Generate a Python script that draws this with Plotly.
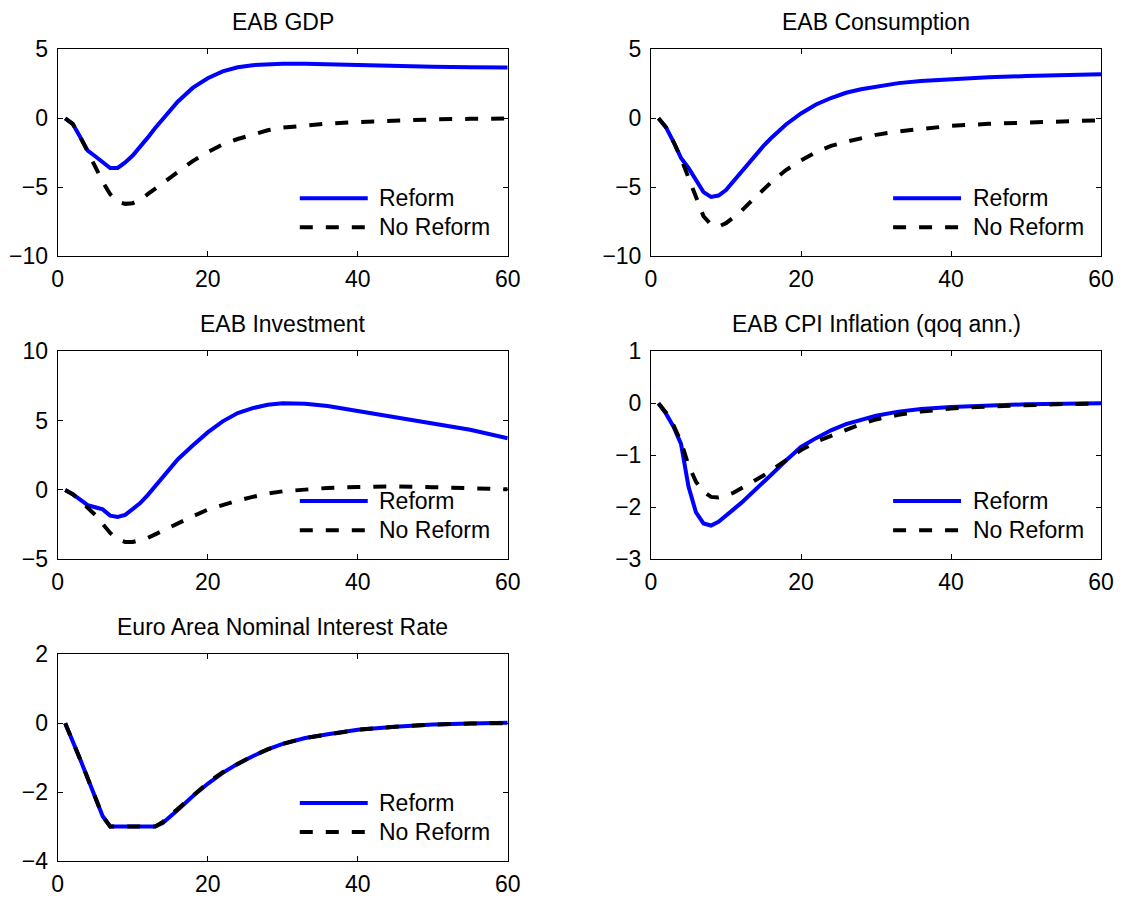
import plotly.graph_objects as go

# ---------------- data ----------------
quarters = [1, 2, 3, 4, 5, 6, 7, 8, 9, 10, 11, 12, 13, 14, 15, 16,
            18, 20, 22, 24, 26, 28, 30, 33, 36, 40, 45, 50, 55, 60]

titles = ["EAB GDP", "EAB Consumption", "EAB Investment",
          "EAB CPI Inflation (qoq ann.)", "Euro Area Nominal Interest Rate"]
series_names = ["Reform", "No Reform"]

gdp_reform = [0, -0.4, -1.35, -2.35, -2.75, -3.2, -3.6, -3.6, -3.2, -2.7, -2.1, -1.4, -0.7, -0.05, 0.6, 1.2,
              2.2, 2.9, 3.4, 3.7, 3.85, 3.92, 3.96, 3.95, 3.9, 3.83, 3.77, 3.73, 3.7, 3.68]
gdp_noreform = [0, -0.4, -1.35, -2.35, -3.5, -4.6, -5.5, -6.05, -6.2, -6.15, -5.9, -5.5, -5.1, -4.75, -4.3, -3.9,
                -3.1, -2.45, -1.9, -1.5, -1.15, -0.87, -0.68, -0.5, -0.38, -0.27, -0.15, -0.08, -0.04, -0.02]

cons_reform = [0, -0.65, -1.7, -2.87, -3.6, -4.45, -5.35, -5.7, -5.6, -5.2, -4.55, -3.95, -3.3, -2.65, -2.0, -1.45,
               -0.45, 0.35, 1.0, 1.47, 1.85, 2.1, 2.3, 2.55, 2.7, 2.85, 2.97, 3.06, 3.13, 3.2]
cons_noreform = [0, -0.65, -1.7, -2.9, -4.3, -5.8, -7.1, -7.7, -7.85, -7.6, -7.2, -6.75, -6.2, -5.65, -5.15, -4.65,
                 -3.75, -3.05, -2.45, -2.0, -1.7, -1.43, -1.2, -0.95, -0.75, -0.55, -0.4, -0.29, -0.2, -0.14]

inv_reform = [0, -0.3, -0.7, -1.1, -1.25, -1.4, -1.85, -1.95, -1.8, -1.4, -0.95, -0.37, 0.3, 0.95, 1.6, 2.2,
              3.2, 4.15, 4.95, 5.55, 5.9, 6.15, 6.25, 6.22, 6.05, 5.7, 5.25, 4.77, 4.34, 3.73]
inv_noreform = [0, -0.3, -0.77, -1.3, -1.8, -2.45, -3.1, -3.58, -3.75, -3.75, -3.63, -3.46, -3.2, -2.93, -2.65, -2.38,
                -1.9, -1.42, -1.06, -0.77, -0.5, -0.26, -0.1, 0.05, 0.15, 0.22, 0.25, 0.2, 0.12, 0.05]

cpi_reform = [0, -0.2, -0.45, -0.78, -1.6, -2.1, -2.31, -2.35, -2.28, -2.17, -2.04, -1.92, -1.79, -1.66, -1.52, -1.38,
              -1.1, -0.84, -0.67, -0.52, -0.4, -0.31, -0.24, -0.16, -0.11, -0.07, -0.04, -0.02, -0.01, 0.0]
cpi_noreform = [0, -0.18, -0.42, -0.74, -1.19, -1.51, -1.7, -1.8, -1.81, -1.78, -1.72, -1.64, -1.56, -1.48, -1.39, -1.29,
                -1.1, -0.9, -0.74, -0.62, -0.5, -0.4, -0.31, -0.22, -0.16, -0.1, -0.06, -0.03, -0.015, -0.005]

rate_reform = [0, -0.5, -1.05, -1.6, -2.15, -2.7, -3.0, -3.0, -3.0, -3.0, -3.0, -3.0, -3.0, -2.9, -2.72, -2.52,
               -2.12, -1.76, -1.44, -1.18, -0.96, -0.76, -0.6, -0.43, -0.32, -0.19, -0.1, -0.04, -0.01, 0.01]
rate_noreform = [0, -0.5, -1.05, -1.6, -2.15, -2.7, -3.0, -3.0, -3.0, -3.0, -3.0, -3.0, -3.0, -2.87, -2.68, -2.48,
                 -2.09, -1.73, -1.42, -1.17, -0.95, -0.76, -0.6, -0.43, -0.32, -0.19, -0.1, -0.04, -0.01, 0.0]

reform_series = [gdp_reform, cons_reform, inv_reform, cpi_reform, rate_reform]
noreform_series = [gdp_noreform, cons_noreform, inv_noreform, cpi_noreform, rate_noreform]

y_ranges = [[-10, 5], [-10, 5], [-5, 10], [-3, 1], [-4, 2]]
y_ticks = [[-10, -5, 0, 5], [-10, -5, 0, 5], [-5, 0, 5, 10], [-3, -2, -1, 0, 1], [-4, -2, 0, 2]]
x_ticks = [0, 20, 40, 60]

# ---------------- layout geometry ----------------
W, H = 1123, 898
col_x = [[57.7 / W, 507.7 / W], [651 / W, 1101 / W]]
row_y = [[1 - 256.3 / H, 1 - 49.3 / H], [1 - 559.3 / H, 1 - 351.3 / H], [1 - 861 / H, 1 - 654.3 / H]]
positions = [(0, 0), (0, 1), (1, 0), (1, 1), (2, 0)]

FONT = "Liberation Sans, Arial, Helvetica, sans-serif"
BLUE = "#0000FF"
BLACK = "#000000"
DASH = "13px,13px"
FS = 23

fig = go.Figure()
layout = dict(
    template="none",
    width=W, height=H, autosize=False,
    margin=dict(l=0, r=0, t=0, b=0, pad=0),
    paper_bgcolor="white", plot_bgcolor="white",
    showlegend=False,
    font=dict(family=FONT, size=FS, color="black"),
)
annotations = []
shapes = []

for i, (r, c) in enumerate(positions):
    n = "" if i == 0 else str(i + 1)
    xa, ya = "x" + n, "y" + n
    fig.add_trace(go.Scatter(x=quarters, y=reform_series[i], mode="lines",
                             line=dict(color=BLUE, width=4), name=series_names[0],
                             xaxis=xa, yaxis=ya, hoverinfo="skip"))
    fig.add_trace(go.Scatter(x=quarters, y=noreform_series[i], mode="lines",
                             line=dict(color=BLACK, width=4, dash=DASH), name=series_names[1],
                             xaxis=xa, yaxis=ya, hoverinfo="skip"))
    axis_common = dict(showline=True, linecolor="black", linewidth=1, mirror="ticks",
                       ticks="inside", ticklen=5, tickwidth=1, tickcolor="black",
                       showgrid=False, zeroline=False, automargin=False,
                       tickfont=dict(family=FONT, size=FS, color="black"))
    layout["xaxis" + n] = dict(domain=col_x[c], range=[0, 60], tickvals=x_ticks,
                               anchor=ya, ticklabelstandoff=2, **axis_common)
    layout["yaxis" + n] = dict(domain=row_y[r], range=y_ranges[i], tickvals=y_ticks[i],
                               anchor=xa, ticklabelstandoff=4, **axis_common)
    # title
    annotations.append(dict(text=titles[i], xref=xa + " domain", yref=ya + " domain",
                            x=0.5, y=1, xanchor="center", yanchor="middle", yshift=27,
                            showarrow=False, font=dict(family=FONT, size=FS, color="black")))
    # legend replica
    for k, (yy, col, dash) in enumerate([(0.28, BLUE, "solid"), (0.14, BLACK, DASH)]):
        shapes.append(dict(type="line", xref=xa + " domain", yref=ya + " domain",
                           x0=0.538, x1=0.689, y0=yy, y1=yy,
                           line=dict(color=col, width=4, dash=dash)))
        annotations.append(dict(text=series_names[k], xref=xa + " domain", yref=ya + " domain",
                                x=0.71, y=yy, xanchor="left", yanchor="middle",
                                showarrow=False, font=dict(family=FONT, size=FS, color="black")))

layout["annotations"] = annotations
layout["shapes"] = shapes
fig.update_layout(**layout)
fig.write_html("out.html",
               config={"displayModeBar": False},
               post_script="document.body.style.margin='0';document.body.style.overflow='hidden';")
